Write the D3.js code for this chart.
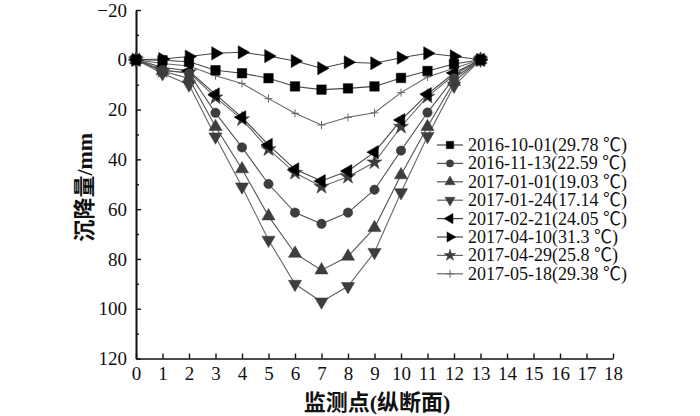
<!DOCTYPE html>
<html>
<head>
<meta charset="utf-8">
<script src="https://cdn.jsdelivr.net/npm/d3@7"></script>
<style>
  body { margin: 0; background: #fff; }
  svg text { font-family: "Liberation Serif", "Noto Sans CJK SC", serif; fill: #111; }
  .axis path, .axis line { stroke: #111; stroke-width: 1.4px; }
</style>
</head>
<body>
<svg id="chart" width="700" height="416"></svg>
<script>
// monitoring points along the longitudinal section
const points = d3.range(0, 14);
const xTicks = d3.range(0, 19);
const yTicks = [-20, 0, 20, 40, 60, 80, 100, 120];

const labels = [
  '2016-10-01(29.78 ℃)',
  '2016-11-13(22.59 ℃)',
  '2017-01-01(19.03 ℃)',
  '2017-01-24(17.14 ℃)',
  '2017-02-21(24.05 ℃)',
  '2017-04-10(31.3 ℃)',
  '2017-04-29(25.8 ℃)',
  '2017-05-18(29.38 ℃)'
];

// settlement in mm
const s20161001 = [0, 0.2, 0.8, 4.2, 5.4, 7.4, 10.7, 12.0, 11.5, 10.7, 7.3, 4.5, 1.7, 0];
const s20161113 = [0, 4, 5.5, 21.3, 35.2, 49.9, 61.4, 65.9, 61.4, 52.2, 36.5, 21.2, 7.4, 0];
const s20170101 = [0, 4.5, 7.5, 26.9, 43.9, 62.8, 77.8, 84.5, 79.0, 67.5, 46.3, 26.9, 8.8, 0];
const s20170124 = [0, 5.5, 10, 30.9, 51.0, 72.4, 90.1, 97.2, 91.0, 77.3, 53.3, 30.7, 10.5, 0];
const s20170221 = [0, 3, 4.5, 13.9, 23.1, 34.2, 44.0, 48.7, 44.7, 37.1, 24.2, 13.8, 5.3, 0];
const s20170410 = [0, -0.3, -1.3, -2.6, -3.0, -1.5, 0.5, 3.4, 1.0, 1.4, -0.8, -2.6, -1.4, 0];
const s20170429 = [0, 4.5, 5, 15.1, 23.9, 35.9, 45.4, 51.0, 47.0, 41.2, 26.9, 14.8, 6.1, 0];
const s20170518 = [0, 1.5, 2.5, 6.4, 9.5, 15.6, 21.5, 26.2, 23.1, 21.3, 13.2, 6.9, 3.4, 0];

const seriesValues = [s20161001, s20161113, s20170101, s20170124,
                      s20170221, s20170410, s20170429, s20170518];

// marker style for each series
const markers = [
  {type: d3.symbolSquare, size: 90, rot: 0, fill: '#000', line: '#444'},
  {type: d3.symbolCircle, size: 70, rot: 0, fill: '#3d3d3d', line: '#555'},
  {type: d3.symbolTriangle, size: 75, rot: 0, fill: '#3d3d3d', line: '#555'},
  {type: d3.symbolTriangle, size: 75, rot: 180, fill: '#3d3d3d', line: '#666'},
  {type: d3.symbolTriangle, size: 75, rot: -90, fill: '#000', line: '#444'},
  {type: d3.symbolTriangle, size: 75, rot: 90, fill: '#000', line: '#444'},
  {type: d3.symbolStar, size: 70, rot: 0, fill: '#3d3d3d', line: '#666'},
  {type: 'plus', size: 8, rot: 0, fill: 'none', line: '#666'}
];

const svg = d3.select('#chart');

const xScale = d3.scaleLinear().domain([0, 18]).range([136, 613]);
const yScale = d3.scaleLinear().domain([-20, 120]).range([10, 358.5]);

// minor y ticks every 10
svg.append('g')
  .attr('class', 'axis')
  .attr('transform', `translate(${xScale(0)},0)`)
  .call(d3.axisLeft(yScale).tickValues(d3.range(-10, 120, 20)).tickSize(-3).tickSizeOuter(0).tickFormat(''));

svg.append('g')
  .attr('class', 'axis y')
  .attr('transform', `translate(${xScale(0)},0)`)
  .call(d3.axisLeft(yScale).tickValues(yTicks).tickSize(-5).tickSizeOuter(0).tickPadding(9)
        .tickFormat(d => d < 0 ? '\u2212' + Math.abs(d) : d))
  .selectAll('text').style('font-size', '19px');

svg.append('g')
  .attr('class', 'axis x')
  .attr('transform', `translate(0,${yScale(120)})`)
  .call(d3.axisBottom(xScale).tickValues(xTicks).tickSize(-5).tickSizeOuter(0).tickPadding(8))
  .selectAll('text').style('font-size', '19px');

svg.selectAll('.axis .domain').style('stroke-width', '1.6px');

svg.append('text')
  .attr('transform', `translate(92,${(yScale(-20) + yScale(120)) / 2 + 3}) rotate(-90)`)
  .attr('text-anchor', 'middle')
  .style('font-size', '22px')
  .style('font-weight', 'bold')
  .text('沉降量/mm');

svg.append('text')
  .attr('x', 377)
  .attr('y', 410)
  .attr('text-anchor', 'middle')
  .style('font-size', '22px')
  .style('font-weight', 'bold')
  .text('监测点(纵断面)');

function drawMarker(g, m) {
  if (m.type === 'plus') {
    g.append('path')
      .attr('d', `M${-m.size / 2},0H${m.size / 2}M0,${-m.size / 2}V${m.size / 2}`)
      .style('stroke', m.line)
      .style('stroke-width', '1px');
  } else {
    g.append('path')
      .attr('d', d3.symbol().type(m.type).size(m.size)())
      .attr('transform', `rotate(${m.rot})`)
      .style('fill', m.fill)
      .style('stroke', m.fill)
      .style('stroke-width', '0.5px');
  }
}

const line = d3.line()
  .x((d, i) => xScale(points[i]))
  .y(d => yScale(d));

// draw from last to first so black series sit on top
for (let k = seriesValues.length - 1; k >= 0; k--) {
  const vals = seriesValues[k];
  const m = markers[k];
  svg.append('path')
    .datum(vals)
    .attr('d', line)
    .style('fill', 'none')
    .style('stroke', m.line)
    .style('stroke-width', '1.1px');
  vals.forEach((v, i) => {
    const g = svg.append('g')
      .attr('transform', `translate(${xScale(points[i])},${yScale(v)})`);
    drawMarker(g, m);
  });
}

// legend
const legend = svg.append('g').attr('transform', 'translate(437,145)');
labels.forEach((lab, k) => {
  const m = markers[k];
  const row = legend.append('g').attr('transform', `translate(0,${k * 18.4})`);
  row.append('line')
    .attr('x1', 0).attr('x2', 26)
    .style('stroke', m.line)
    .style('stroke-width', '1.2px');
  const mk = row.append('g').attr('transform', 'translate(13,0)');
  drawMarker(mk, Object.assign({}, m, {size: m.type === 'plus' ? 8 : m.size * 0.6}));
  row.append('text')
    .attr('x', 31)
    .attr('y', 6)
    .style('font-size', '18px')
    .text(lab);
});
</script>
</body>
</html>
